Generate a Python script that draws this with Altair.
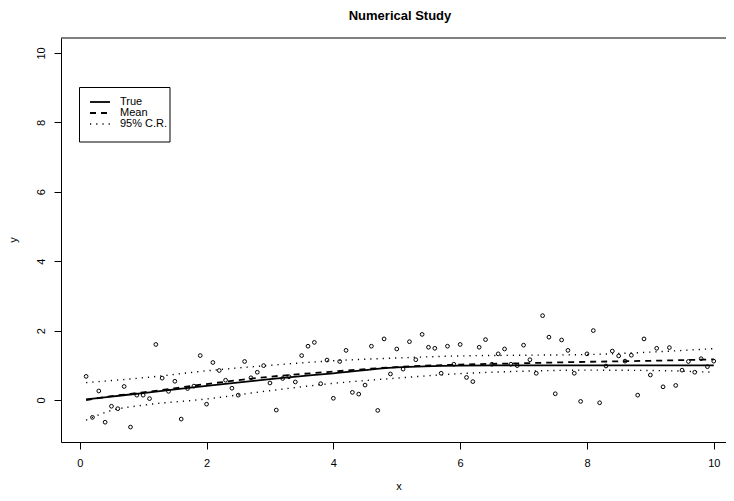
import altair as alt
import pandas as pd

# ---- data ----
PX = [0.1, 0.2, 0.3, 0.4, 0.5, 0.6, 0.7, 0.8, 0.9, 1.0,
      1.1, 1.2, 1.3, 1.4, 1.5, 1.6, 1.7, 1.8, 1.9, 2.0,
      2.1, 2.2, 2.3, 2.4, 2.5, 2.6, 2.7, 2.8, 2.9, 3.0,
      3.1, 3.2, 3.3, 3.4, 3.5, 3.6, 3.7, 3.8, 3.9, 4.0,
      4.1, 4.2, 4.3, 4.4, 4.5, 4.6, 4.7, 4.8, 4.9, 5.0,
      5.1, 5.2, 5.3, 5.4, 5.5, 5.6, 5.7, 5.8, 5.9, 6.0,
      6.1, 6.2, 6.3, 6.4, 6.5, 6.6, 6.7, 6.8, 6.9, 7.0,
      7.1, 7.2, 7.3, 7.4, 7.5, 7.6, 7.7, 7.8, 7.9, 8.0,
      8.1, 8.2, 8.3, 8.4, 8.5, 8.6, 8.7, 8.8, 8.9, 9.0,
      9.1, 9.2, 9.3, 9.4, 9.5, 9.6, 9.7, 9.8, 9.9, 10.0]
PY = [0.68, -0.50, 0.26, -0.64, -0.18, -0.25, 0.39, -0.78, 0.14, 0.14,
      0.04, 1.60, 0.63, 0.25, 0.54, -0.55, 0.33, 0.40, 1.28, -0.12,
      1.08, 0.85, 0.57, 0.34, 0.14, 1.11, 0.64, 0.80, 0.99, 0.49,
      -0.29, 0.62, 0.67, 0.52, 1.28, 1.55, 1.66, 0.47, 1.15, 0.05,
      1.11, 1.43, 0.22, 0.17, 0.43, 1.55, -0.30, 1.76, 0.75, 1.47,
      0.89, 1.68, 1.16, 1.89, 1.52, 1.49, 0.77, 1.55, 1.03, 1.60,
      0.65, 0.53, 1.52, 1.74, 1.03, 1.33, 1.47, 1.03, 0.99, 1.58,
      1.16, 0.77, 2.43, 1.81, 0.18, 1.73, 1.43, 0.77, -0.04, 1.33,
      2.00, -0.08, 0.98, 1.41, 1.27, 1.12, 1.29, 0.14, 1.76, 0.72,
      1.49, 0.38, 1.51, 0.42, 0.86, 1.11, 0.80, 1.19, 0.96, 1.12]

CX = [0.1, 0.5, 1, 2, 3, 4, 5, 6, 7, 8, 9, 10]
TRUE_Y = [0.02, 0.10, 0.20, 0.41, 0.60, 0.77, 0.94, 0.99, 1.00, 1.00, 1.00, 1.00]
MEAN_Y = [0.00, 0.11, 0.22, 0.46, 0.67, 0.82, 0.95, 1.02, 1.06, 1.10, 1.13, 1.17]
UPPER_Y = [0.50, 0.56, 0.64, 0.84, 1.00, 1.13, 1.21, 1.27, 1.29, 1.31, 1.38, 1.48]
LOWER_Y = [-0.58, -0.30, -0.15, 0.03, 0.27, 0.48, 0.63, 0.76, 0.83, 0.86, 0.85, 0.80]

TICKS = [0, 2, 4, 6, 8, 10]
LEGEND_LABELS = ["True", "Mean", "95% C.R."]
TITLE = "Numerical Study"

FONT = "Liberation Sans"
W, H = 665, 404
XDOM = [-0.296, 10.193]
YDOM = [-1.21, 10.43]

pts = pd.DataFrame({"x": PX, "y": PY})
curves = pd.DataFrame({"x": CX, "true": TRUE_Y, "mean": MEAN_Y,
                       "upper": UPPER_Y, "lower": LOWER_Y})
one = pd.DataFrame({"a": [0]})

xs = alt.Scale(domain=XDOM, nice=False, zero=False)
ys = alt.Scale(domain=YDOM, nice=False, zero=False)

common_axis = dict(values=TICKS, title=None, grid=False, tickSize=7, labelPadding=8,
                   labelFont=FONT, labelFontSize=11, labelColor="black",
                   domainColor="black", tickColor="black", labelFlush=False,
                   labelOverlap=False, format="d")
xaxis = alt.Axis(**common_axis)
yaxis = alt.Axis(labelAngle=270, labelAlign="center", labelBaseline="bottom", **common_axis)

X = alt.X("x:Q", scale=xs, axis=xaxis)

points = alt.Chart(pts).mark_point(shape="circle", filled=False, size=14,
                                   strokeWidth=1, color="black", opacity=1).encode(
    x=X, y=alt.Y("y:Q", scale=ys, axis=yaxis))


def curve(field, dash, width):
    kw = dict(color="black", strokeWidth=width, interpolate="monotone")
    if dash:
        kw["strokeDash"] = dash
    return alt.Chart(curves).mark_line(**kw).encode(
        x=X, y=alt.Y(f"{field}:Q", scale=ys, axis=yaxis))


true_l = curve("true", None, 1.8)
mean_l = curve("mean", [6, 5], 1.8)
up_l = curve("upper", [1.2, 5], 1.4)
lo_l = curve("lower", [1.2, 5], 1.4)

top_rule = alt.Chart(one).mark_rule(color="black", strokeWidth=1).encode(
    x=alt.value(0), x2=alt.value(W), y=alt.value(0))

legend_box = alt.Chart(one).mark_rect(fill="white", stroke="black", strokeWidth=1).encode(
    x=alt.value(18.5), x2=alt.value(109), y=alt.value(49.5), y2=alt.value(104))

leg_y = [64, 75, 86]
leg_layers = []
dashes = [None, [6, 5], [1.2, 5]]
widths = [1.8, 1.8, 1.4]
for i, lab in enumerate(LEGEND_LABELS):
    kw = dict(color="black", strokeWidth=widths[i])
    if dashes[i]:
        kw["strokeDash"] = dashes[i]
    leg_layers.append(alt.Chart(one).mark_rule(**kw).encode(
        x=alt.value(29), x2=alt.value(49), y=alt.value(leg_y[i])))
    leg_layers.append(alt.Chart(one).mark_text(
        align="left", baseline="middle", font=FONT, fontSize=11, color="black").encode(
        x=alt.value(59), y=alt.value(leg_y[i]), text=alt.value(lab)))

title = alt.Chart(one).mark_text(align="center", baseline="middle", font=FONT,
                                 fontSize=13, fontWeight="bold", color="black").encode(
    x=alt.value(339), y=alt.value(-22), text=alt.value(TITLE))
xtitle = alt.Chart(one).mark_text(align="center", baseline="middle", font=FONT,
                                  fontSize=11, color="black").encode(
    x=alt.value(338), y=alt.value(449), text=alt.value("x"))
ytitle = alt.Chart(one).mark_text(align="center", baseline="middle", font=FONT,
                                  fontSize=11, color="black", angle=270).encode(
    x=alt.value(-47), y=alt.value(202), text=alt.value("y"))

chart = alt.layer(points, true_l, mean_l, up_l, lo_l, top_rule, legend_box,
                  *leg_layers, title, xtitle, ytitle).properties(
    width=W, height=H,
    autosize=alt.AutoSizeParams(type="none"),
    padding={"left": 53, "top": 30, "right": 0, "bottom": 50},
    background="white",
).configure_view(stroke=None)

chart.save("out.html", embed_options={"renderer": "svg", "actions": False})
